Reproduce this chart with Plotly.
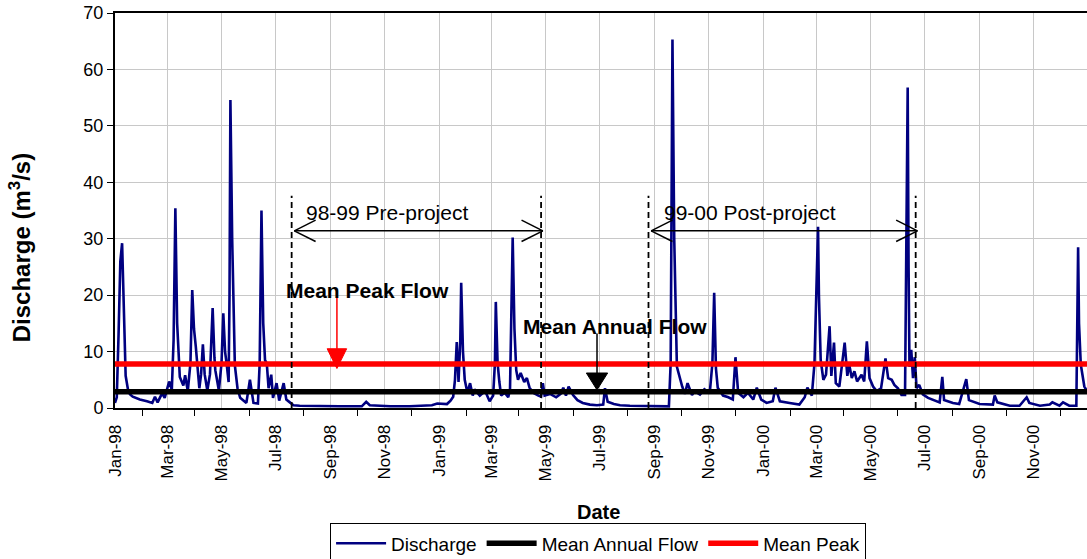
import pandas as pd
import plotly.graph_objects as go

# ---------------- data ----------------
START = pd.Timestamp("1998-01-01")
END = pd.Timestamp("2000-12-31")

# day number counted from 1 Jan 1998
day = [0, 2, 4, 6, 8, 10, 12, 15, 17, 20, 28, 36, 42, 45, 48, 53, 56, 61, 64, 66,
       68, 70, 73, 77, 79, 82, 85, 87, 89, 91, 92, 95, 97, 99, 101, 104, 107, 110, 112, 113,
       117, 120, 122, 124, 126, 128, 129, 130, 132, 135, 138, 141, 148, 152, 156, 161, 163, 165, 167, 169,
       171, 173, 176, 178, 182, 185, 190, 193, 197, 201, 208, 231, 253, 278, 283, 287, 310, 332, 357, 363,
       374, 378, 381, 383, 385, 387, 389, 390, 392, 394, 397, 400, 403, 405, 411, 417, 422, 426, 428, 429,
       431, 433, 435, 439, 443, 445, 446, 448, 450, 452, 454, 457, 461, 464, 467, 471, 477, 480, 482, 484,
       490, 497, 502, 505, 508, 511, 516, 521, 527, 535, 543, 550, 552, 555, 562, 569, 580, 591, 608, 624,
       626, 628, 630, 633, 639, 642, 645, 650, 653, 659, 664, 670, 673, 675, 677, 679, 685, 691, 696, 699,
       702, 708, 713, 719, 723, 728, 734, 741, 744, 749, 760, 771, 777, 780, 785, 788, 790, 792, 793, 795,
       798, 801, 805, 807, 810, 812, 816, 822, 825, 827, 830, 833, 836, 841, 844, 847, 850, 854, 858, 863,
       868, 871, 875, 878, 882, 886, 890, 891, 893, 894, 895, 897, 899, 901, 903, 906, 910, 916, 921, 929,
       932, 934, 944, 951, 959, 962, 974, 989, 991, 994, 1008, 1019, 1027, 1030, 1042, 1053, 1056, 1064, 1068, 1075,
       1083, 1084, 1085, 1086, 1088, 1092, 1095]

discharge = [0.9, 1.9, 13, 26, 29.2, 19, 5.7, 2.9, 2.4, 2.0, 1.5, 1.2, 0.9, 2.0, 1.0, 2.6, 1.8, 4.7, 3.2, 12,
             35.4, 15, 5.5, 4.0, 5.8, 3.0, 8, 20.9, 14, 10.9, 8.8, 3.5, 6, 11.3, 6, 3.1, 6, 17.7, 9, 6.7,
             3.1, 8, 16.8, 10, 7.5, 4.6, 20, 54.6, 30, 7.6, 3.5, 1.8, 0.9, 5.0, 0.9, 0.8, 8, 35.0, 15, 8.5,
             7.9, 3.5, 5.9, 1.8, 4.4, 1.3, 4.4, 1.5, 1.0, 0.5, 0.4, 0.3, 0.3, 0.3, 1.1, 0.5, 0.3, 0.3, 0.5, 0.8,
             0.7, 1.3, 2.0, 5, 11.7, 4.6, 12, 22.2, 10, 5.0, 2.7, 4.4, 2.2, 3.3, 2.2, 3.0, 1.2, 2.2, 8, 18.8,
             8, 4.6, 2.2, 2.7, 1.9, 3.3, 15, 30.2, 14, 6.7, 5.0, 6.2, 4.6, 5.3, 3.6, 2.7, 2.2, 2.0, 4.4, 2.2,
             2.5, 1.9, 2.5, 3.6, 2.2, 3.8, 2.3, 1.4, 0.9, 0.6, 0.5, 0.6, 3.5, 1.1, 0.7, 0.5, 0.4, 0.4, 0.3, 0.3,
             8, 65.3, 30, 7.3, 3.8, 2.5, 4.4, 2.3, 3.0, 2.4, 3.3, 2.6, 8, 20.4, 7, 3.6, 2.2, 1.9, 1.5, 9.0,
             2.7, 1.9, 2.7, 1.5, 3.6, 1.5, 0.9, 1.2, 3.6, 1.2, 0.9, 0.6, 1.9, 3.6, 2.2, 7.9, 20, 32.1, 20, 8.5,
             5.0, 5.9, 14.5, 5.7, 11.6, 4.4, 3.8, 11.6, 5.7, 7.8, 5.3, 6.5, 4.7, 5.9, 4.7, 11.8, 5.3, 3.8, 3.0, 3.5,
             8.8, 5.3, 5.0, 4.1, 3.5, 2.3, 2.3, 25, 56.8, 25, 7.3, 10.3, 5.3, 9.0, 3.5, 4.1, 2.4, 1.8, 1.5, 1.0,
             5.5, 1.4, 0.9, 0.7, 5.1, 1.4, 0.7, 0.6, 2.2, 1.0, 0.4, 0.4, 1.9, 0.9, 0.4, 0.6, 1.0, 0.4, 1.0, 0.4,
             0.4, 15, 28.5, 15, 7.7, 3.8, 3.0]

mean_annual_flow = 2.9
mean_peak = 7.8

# period boundaries (day numbers) marked by dashed lines
pre_project = (199, 480)
post_project = (601, 902)

# ---------------- helpers ----------------
def d(n):
    return START + pd.Timedelta(days=n)

def ds(n):
    return d(n).strftime("%Y-%m-%d")

dates = [d(n) for n in day]
FONT = "Arial, 'Liberation Sans', sans-serif"

fig = go.Figure()
fig.add_trace(go.Scatter(x=dates, y=discharge, mode="lines", name="Discharge",
                         line=dict(color="#000080", width=2.6)))
fig.add_trace(go.Scatter(x=[START, END], y=[mean_annual_flow, mean_annual_flow], mode="lines",
                         name="Mean Annual Flow", line=dict(color="black", width=5.5)))
fig.add_trace(go.Scatter(x=[START, END], y=[mean_peak, mean_peak], mode="lines",
                         name="Mean Peak", line=dict(color="#ff0000", width=5.5)))

shapes = []
DASH_TOP = 37.6
ARROW_Y = 31.4
ARM_DAYS = 24
ARM_H = 1.9
for a, b in (pre_project, post_project):
    for x in (a, b):
        shapes.append(dict(type="line", xref="x", yref="y", x0=d(x), x1=d(x), y0=0, y1=DASH_TOP,
                           line=dict(color="black", width=1.8, dash="6px,4px")))
    left, right = a + 3, b + 2
    shapes.append(dict(type="line", xref="x", yref="y", x0=d(left), x1=d(right), y0=ARROW_Y, y1=ARROW_Y,
                       line=dict(color="black", width=1.5)))
    for sgn in (1, -1):
        shapes.append(dict(type="line", xref="x", yref="y", x0=d(left), x1=d(left + ARM_DAYS),
                           y0=ARROW_Y, y1=ARROW_Y + sgn * ARM_H, line=dict(color="black", width=1.5)))
        shapes.append(dict(type="line", xref="x", yref="y", x0=d(right), x1=d(right - ARM_DAYS),
                           y0=ARROW_Y, y1=ARROW_Y + sgn * ARM_H, line=dict(color="black", width=1.5)))


def down_arrow(xday, tail, tip, head_h, half_w, color):
    """Vertical pointer: thin shaft plus a filled triangular head."""
    out = [dict(type="line", xref="x", yref="y", x0=d(xday), x1=d(xday), y0=tail, y1=tip + head_h * 0.9,
                line=dict(color=color, width=1.5))]
    path = (f"M{ds(xday - half_w)},{tip + head_h} L{ds(xday + half_w)},{tip + head_h} "
            f"L{ds(xday)},{tip} Z")
    out.append(dict(type="path", xref="x", yref="y", path=path, fillcolor=color,
                    line=dict(color=color, width=1)))
    return out


shapes += down_arrow(250, 20.0, 7.0, 3.5, 11, "#ff0000")
shapes += down_arrow(543, 13.2, 3.2, 3.0, 12, "black")

annotations = [
    dict(x=d(306), y=34.7, xref="x", yref="y", showarrow=False,
         text="98-99 Pre-project", font=dict(size=21, color="black", family=FONT)),
    dict(x=d(715.6), y=34.7, xref="x", yref="y", showarrow=False,
         text="99-00 Post-project", font=dict(size=21, color="black", family=FONT)),
    dict(x=d(285), y=20.9, xref="x", yref="y", showarrow=False,
         text="<b>Mean Peak Flow</b>", font=dict(size=21, color="black", family=FONT)),
    dict(x=d(563), y=14.5, xref="x", yref="y", showarrow=False,
         text="<b>Mean Annual Flow</b>", font=dict(size=21, color="black", family=FONT)),
    dict(x=0.497, y=-0.263, xref="paper", yref="paper", showarrow=False, text="<b>Date</b>",
         font=dict(size=20, color="black", family=FONT), xanchor="center", yanchor="middle"),
    dict(x=-0.0975, y=0.405, xref="paper", yref="paper", showarrow=False, textangle=-90,
         xanchor="center", yanchor="middle",
         text="<b>Discharge (m<sup>3</sup>/s)</b>", font=dict(size=24, color="black", family=FONT)),
]

fig.update_layout(
    width=1087, height=559,
    margin=dict(l=115, r=0, t=13, b=151, autoexpand=False),
    paper_bgcolor="white", plot_bgcolor="white",
    font=dict(family=FONT, color="black"),
    shapes=shapes, annotations=annotations,
    showlegend=True,
    legend=dict(orientation="h", x=0.497, xanchor="center", y=-0.292, yanchor="top",
                bordercolor="black", borderwidth=1, bgcolor="white", itemwidth=50,
                font=dict(size=19, family=FONT, color="black"), tracegroupgap=0),
    xaxis=dict(type="date", range=[START, END], tickformat="%b-%y", dtick="M2", tick0="1998-01-01",
               tickangle=-90, ticks="", showgrid=True, gridcolor="#c8c8c8", gridwidth=1,
               showline=True, linecolor="black", linewidth=2, mirror=True, zeroline=False,
               automargin=False, ticklabelstandoff=8,
               tickfont=dict(size=17, family=FONT, color="black"),
               minor=dict(ticks="outside", dtick="M2", tick0="1998-02-01", ticklen=6,
                          tickcolor="black", tickwidth=1, showgrid=False)),
    yaxis=dict(range=[0, 70], dtick=10, ticks="outside", ticklen=6, tickcolor="black",
               showgrid=True, gridcolor="#c8c8c8", gridwidth=1, showline=True, linecolor="black",
               linewidth=2, zeroline=False, automargin=False,
               tickfont=dict(size=18, family=FONT, color="black")),
)

fig.write_html("out.html", config={"displayModeBar": False},
               post_script="document.body.style.margin='0px';document.body.style.overflow='hidden';")
